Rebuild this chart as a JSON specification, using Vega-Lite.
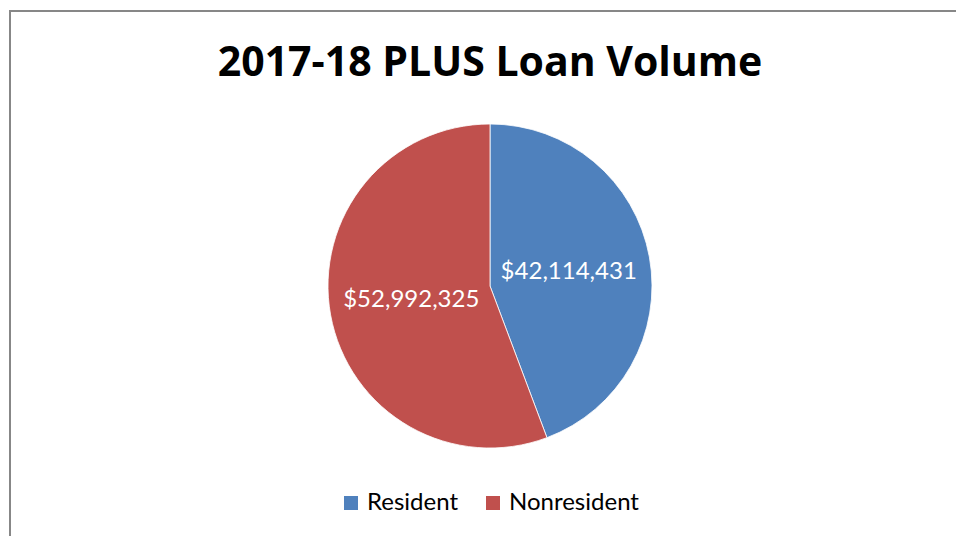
{
  "$schema": "https://vega.github.io/schema/vega-lite/v6.json",
  "width": 960,
  "height": 550,
  "padding": {"left": 9, "top": 10, "right": 0, "bottom": 0},
  "autosize": {"type": "pad"},
  "background": "white",
  "config": {
    "view": {"stroke": null},
    "font": "Lato"
  },
  "title": {
    "text": "2017-18 PLUS Loan Volume",
    "font": "Open Sans",
    "fontSize": 41,
    "fontWeight": "bold",
    "color": "#000000",
    "anchor": "middle",
    "baseline": "alphabetic",
    "offset": -63,
    "dy": 44
  },
  "data": {
    "values": [
      {"category": "Resident", "amount": 42114431, "label": "$42,114,431"},
      {"category": "Nonresident", "amount": 52992325, "label": "$52,992,325"}
    ]
  },
  "layer": [
    {
      "data": {"values": [{}]},
      "mark": {"type": "rect", "fill": null, "fillOpacity": 0, "stroke": "#878787", "strokeWidth": 2},
      "encoding": {}
    },
    {
      "mark": {"type": "arc", "outerRadius": 162, "stroke": "white", "strokeWidth": 0.8},
      "encoding": {
        "theta": {"field": "amount", "type": "quantitative", "stack": true},
        "order": {"field": "category", "sort": "descending"},
        "color": {
          "field": "category",
          "type": "nominal",
          "scale": {"domain": ["Resident", "Nonresident"], "range": ["#4F81BD", "#C0504D"]},
          "legend": {
            "title": null,
            "orient": "none",
            "direction": "horizontal",
            "legendX": 329,
            "legendY": 480,
            "symbolType": "square",
            "symbolSize": 196,
            "symbolStrokeWidth": 0,
            "labelFont": "Lato",
            "labelFontSize": 24,
            "labelColor": "#000000",
            "columnPadding": 22,
            "labelOffset": 4
          }
        }
      }
    },
    {
      "mark": {"type": "text", "radius": 80, "fontSize": 24, "color": "white", "font": "Lato"},
      "encoding": {
        "theta": {"field": "amount", "type": "quantitative", "stack": true},
        "order": {"field": "category", "sort": "descending"},
        "text": {"field": "label", "type": "nominal"}
      }
    }
  ]
}
